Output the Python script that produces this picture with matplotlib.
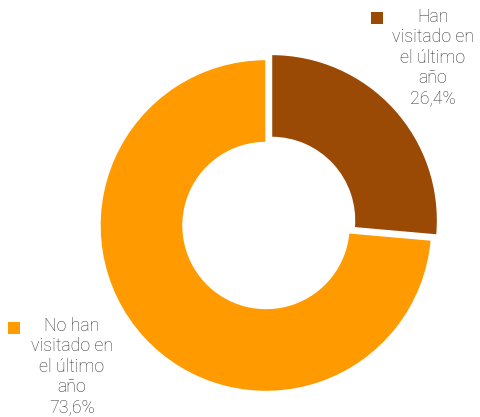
import matplotlib
matplotlib.use("Agg")
import matplotlib.pyplot as plt

labels = ["Han\nvisitado en\nel último\naño", "No han\nvisitado en\nel último\naño"]
values = [26.4, 73.6]
value_labels = ["26,4%", "73,6%"]
colors = ["#9B4A06", "#FF9A00"]

W, H = 480, 417
fig = plt.figure(figsize=(W / 100, H / 100), dpi=100)
ax = fig.add_axes([0, 0, 1, 1])

ax.pie(values, colors=colors, startangle=90, counterclock=False,
       explode=[7.5, 0], center=(266, 191.5), radius=166,
       wedgeprops=dict(width=83, edgecolor="white", linewidth=1.0),
       frame=True)
ax.set_xlim(0, W)
ax.set_ylim(0, H)
ax.set_aspect("equal")
ax.axis("off")

font = ["Roboto", "DejaVu Sans"]
tkw = dict(ha="center", va="top", fontsize=12.8, color="#333333", family=font,
           fontweight="light", linespacing=1.17)
# right label
ax.scatter([377], [H - 18], marker="s", s=70, color=colors[0], zorder=5, linewidths=0)
ax.text(433, H - 8, labels[0] + "\n" + value_labels[0], **tkw)
# left label
ax.scatter([14], [H - 328], marker="s", s=70, color=colors[1], zorder=5, linewidths=0)
ax.text(72, H - 317, labels[1] + "\n" + value_labels[1], **tkw)

fig.savefig("out.png", dpi=100)
